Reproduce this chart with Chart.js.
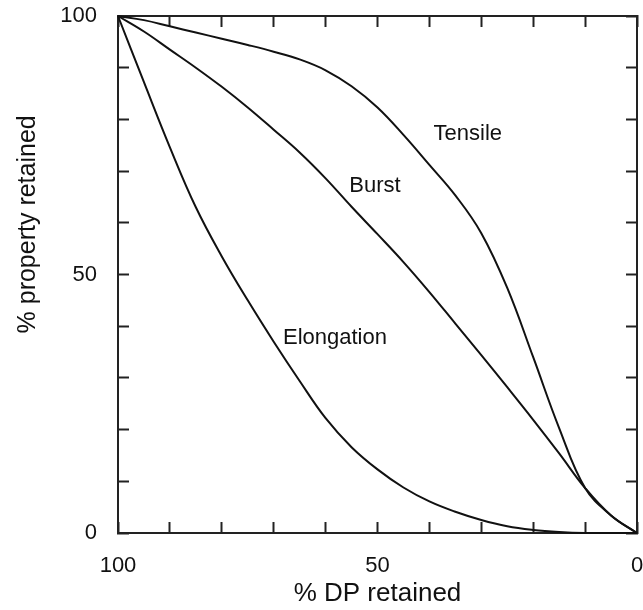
<!DOCTYPE html>
<html>
<head>
<meta charset="utf-8">
<script src="https://cdn.jsdelivr.net/npm/chart.js@4.4.1/dist/chart.umd.min.js"></script>
<style>
  html, body { margin: 0; padding: 0; background: #fff; }
</style>
</head>
<body>
<canvas id="chart" width="643" height="610"></canvas>
<script>
// % DP retained (x), shared by all three curves
const dp = [100, 95, 90, 85, 80, 75, 70, 65, 60, 55, 50, 45, 40, 35, 30, 25, 20, 15, 10, 5, 0];

// % property retained (y)
const tensile    = [100, 99.2, 98.0, 96.8, 95.6, 94.4, 93.1, 91.6, 89.5, 86.4, 82.3, 77.0, 71.2, 65.3, 58.0, 47.4, 34.0, 20.3, 8.7, 3.4, 0];
const burst      = [100, 97.0, 93.5, 90.0, 86.3, 82.3, 78.0, 73.6, 68.6, 63.1, 57.8, 52.4, 46.6, 40.5, 34.4, 28.2, 21.9, 15.4, 8.7, 3.4, 0];
const elongation = [100, 87.2, 74.6, 63.0, 53.5, 45.0, 37.0, 29.4, 22.2, 16.6, 12.3, 8.8, 6.1, 4.1, 2.5, 1.3, 0.6, 0.2, 0, 0, 0];

const seriesNames = ['Tensile', 'Burst', 'Elongation'];
const labelledTicks = [0, 50, 100];

// where the curve names sit, in data units [dp, property]
const labelSpots = [[32.6, 77.2], [50.5, 67.2], [58.2, 37.8]];

const FONT = '"Liberation Sans", Arial, Helvetica, sans-serif';
const INK = '#111';

const toPoints = (ys) => dp.map((x, i) => ({ x: x, y: ys[i] }));

const curveLabels = {
  id: 'curveLabels',
  afterDatasetsDraw(chart) {
    const { ctx } = chart;
    const x = chart.scales.x, y = chart.scales.y;
    ctx.save();
    ctx.fillStyle = INK;
    ctx.textAlign = 'center';
    ctx.textBaseline = 'middle';
    ctx.font = '22px ' + FONT;
    chart.data.datasets.forEach((ds, i) => {
      const [lx, ly] = labelSpots[i];
      ctx.fillText(ds.label, x.getPixelForValue(lx), y.getPixelForValue(ly));
    });
    // y axis title, sits a bit above the middle like the original
    ctx.font = '25px ' + FONT;
    ctx.translate(28, y.getPixelForValue(59.7));
    ctx.rotate(-Math.PI / 2);
    ctx.fillText('% property retained', 0, 0);
    ctx.restore();
  }
};

const frame = {
  grid: { drawOnChartArea: false, drawTicks: true, tickLength: -11, tickWidth: 2, tickColor: '#222' },
  border: { display: true, color: '#222', width: 2 }
};

// fix axis box sizes and drop the label overflow padding
const fixSize = (key, size) => (s) => {
  s[key] = size;
  s.paddingTop = s.paddingBottom = s.paddingLeft = s.paddingRight = 0;
};

new Chart(document.getElementById('chart'), {
  type: 'line',
  data: {
    datasets: [tensile, burst, elongation].map((ys, i) => ({
      label: seriesNames[i],
      data: toPoints(ys),
      borderColor: INK,
      borderWidth: 2,
      pointRadius: 0,
      fill: false,
      tension: 0.4,
      clip: 4
    }))
  },
  options: {
    responsive: false,
    animation: false,
    layout: { padding: 0 },
    plugins: { legend: { display: false }, tooltip: { enabled: false } },
    scales: {
      x: {
        type: 'linear', position: 'bottom', min: 0, max: 100, reverse: true,
        ...frame,
        ticks: {
          stepSize: 10, autoSkip: false, maxRotation: 0, padding: 31,
          color: INK, font: { size: 22, family: FONT },
          callback: (v) => labelledTicks.includes(v) ? String(v) : ''
        },
        title: {
          display: true, text: '% DP retained', color: INK,
          font: { size: 26, family: FONT }, padding: { top: 0, bottom: 1 }
        },
        afterFit: fixSize('height', 77)
      },
      x2: {
        type: 'linear', position: 'top', min: 0, max: 100, reverse: true,
        ...frame,
        ticks: { stepSize: 10, display: false },
        afterFit: fixSize('height', 16)
      },
      y: {
        type: 'linear', position: 'left', min: 0, max: 100,
        ...frame,
        ticks: {
          stepSize: 10, autoSkip: false, padding: 32,
          color: INK, font: { size: 22, family: FONT },
          callback: (v) => labelledTicks.includes(v) ? String(v) : ''
        },
        afterFit: fixSize('width', 118)
      },
      y2: {
        type: 'linear', position: 'right', min: 0, max: 100,
        ...frame,
        ticks: { stepSize: 10, display: false },
        afterFit: fixSize('width', 6)
      }
    }
  },
  plugins: [curveLabels]
});
</script>
</body>
</html>
